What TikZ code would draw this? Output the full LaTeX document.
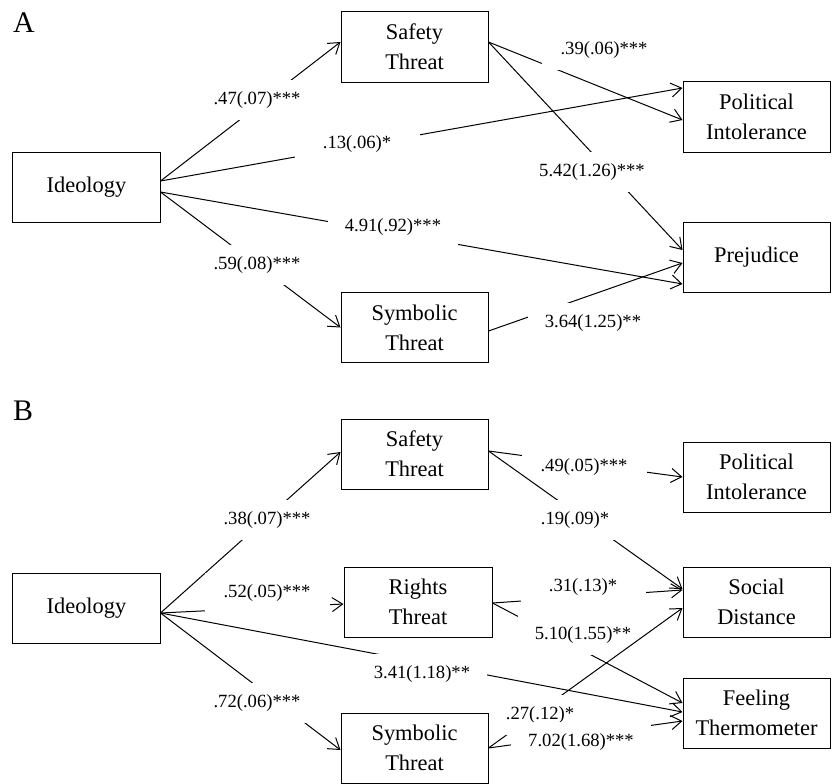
\documentclass[tikz,border=0pt]{standalone}
\usepackage{fontspec}
\setmainfont{Liberation Serif}
\usetikzlibrary{arrows.meta}

\tikzset{
  var/.style={draw, line width=1bp, minimum width=147bp, minimum height=70bp, inner sep=0pt,
    align=center, font=\fontsize{22.5}{30}\selectfont},
  coef/.style={fill=white, minimum width=125bp, minimum height=40bp, inner xsep=17bp,
    font=\fontsize{18.7}{22}\selectfont},
  arr/.style={line width=1bp, -{Straight Barb[length=10.5bp,width=14bp]}},
  panel/.style={font=\fontsize{30}{30}\selectfont}
}

\begin{document}
\begin{tikzpicture}[x=1bp, y=-1bp]
    \useasboundingbox (0,0) rectangle (833,784);

    % Panel A
    \node[panel] (panA) at (24,23) {A};
    \node[var] (ideoA) at (86.5,187) {Ideology};
    \node[var] (safA) at (414.5,47) {Safety\\Threat};
    \node[var] (symA) at (414.5,327.5) {Symbolic\\Threat};
    \node[var] (polA) at (756.5,117) {Political\\Intolerance};
    \node[var] (prejA) at (756.5,257.5) {Prejudice};

    % Paths A
    \draw[arr] ([yshift=6bp]ideoA.east) -- ([yshift=5bp]safA.west);
    \node[coef] (cA1) at (257,100) {.47(.07)***};
    \draw[arr] ([yshift=6bp]ideoA.east) -- ([yshift=29bp]polA.west);
    \node[coef] (cA2) at (357,144) {.13(.06)*};
    \draw[arr] ([yshift=-5bp]ideoA.east) -- ([yshift=-26.5bp]prejA.west);
    \node[coef] (cA3) at (393,227) {4.91(.92)***};
    \draw[arr] ([yshift=-5bp]ideoA.east) -- (symA.west);
    \node[coef] (cA4) at (257,265) {.59(.08)***};
    \draw[arr] ([yshift=5bp]safA.east) -- ([yshift=-3bp]polA.west);
    \node[coef] (cA5) at (604,50) {.39(.06)***};
    \draw[arr] ([yshift=5bp]safA.east) -- ([yshift=7.5bp]prejA.west);
    \node[coef] (cA6) at (592,172) {5.42(1.26)***};
    \draw[arr] ([yshift=-3.5bp]symA.east) -- ([yshift=-5.5bp]prejA.west);
    \node[coef] (cA7) at (593,323) {3.64(1.25)**};

    % Panel B
    \node[panel] (panB) at (23,411) {B};
    \node[var] (ideoB) at (86.5,608) {Ideology};
    \node[var] (safB) at (414.5,454) {Safety\\Threat};
    \node[var, minimum width=148bp] (rigB) at (418,602) {Rights\\Threat};
    \node[var] (symB) at (414.5,748) {Symbolic\\Threat};
    \node[var] (polB) at (756.5,477) {Political\\Intolerance};
    \node[var] (socB) at (756.5,602) {Social\\Distance};
    \node[var] (feelB) at (756.5,713) {Feeling\\Thermometer};

    % Paths B
    \draw[arr] ([yshift=-5bp]ideoB.east) -- ([yshift=2bp]safB.west);
    \node[coef] (cB1) at (267,520) {.38(.07)***};
    \draw[arr] ([yshift=-5bp]ideoB.east) -- ([yshift=-2bp]rigB.west);
    \node[coef] (cB2) at (267,593) {.52(.05)***};
    \draw[arr] ([yshift=-5bp]ideoB.east) -- ([yshift=1bp]feelB.west);
    \node[coef] (cB3) at (422,674) {3.41(1.18)**};
    \draw[arr] ([yshift=-5bp]ideoB.east) -- ([yshift=-2bp]symB.west);
    \node[coef] (cB4) at (257,703) {.72(.06)***};
    \draw[arr] ([yshift=3bp]safB.east) -- (polB.west);
    \node[coef] (cB5) at (584,467) {.49(.05)***};
    \draw[arr] ([yshift=3bp]safB.east) -- ([yshift=13bp]socB.west);
    \node[coef] (cB6) at (575,520) {.19(.09)*};
    \draw[arr] ([yshift=-1bp]rigB.east) -- ([yshift=12bp]socB.west);
    \node[coef] (cB7) at (583,587) {.31(.13)*};
    \draw[arr] ([yshift=-1bp]rigB.east) -- ([yshift=10bp]feelB.west);
    \node[coef] (cB8) at (583,635) {5.10(1.55)**};
    \draw[arr] (symB.east) -- ([yshift=-6bp]socB.west);
    \node[coef, minimum width=100bp] (cB9) at (540,715) {.27(.12)*};
    \draw[arr] (symB.east) -- ([yshift=-8bp]feelB.west);
    \node[coef] (cB10) at (581,742) {7.02(1.68)***};
  \end{tikzpicture}
\end{document}
